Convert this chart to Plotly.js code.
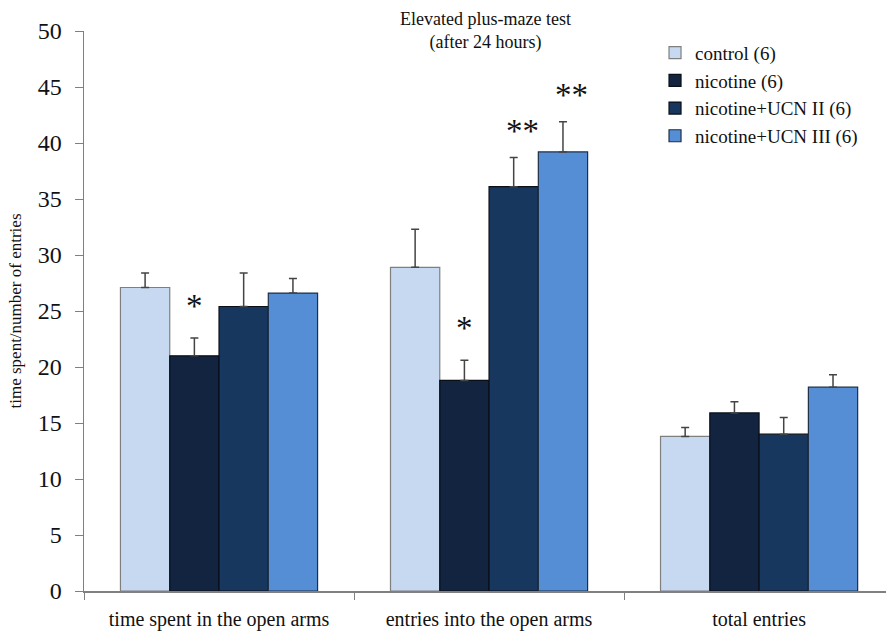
<!DOCTYPE html>
<html>
<head>
<meta charset="utf-8">
<script src="https://cdn.plot.ly/plotly-3.0.1.min.js"></script>
<style>html,body{margin:0;padding:0;background:#fff;}#chart{width:886px;height:632px;}</style>
</head>
<body>
<div id="chart"></div>
<script>
const categories = ["time spent in the open arms", "entries into the open arms", "total entries"];
const seriesNames = ["control (6)", "nicotine (6)", "nicotine+UCN II (6)", "nicotine+UCN III (6)"];
const controlVals = [27.1, 28.9, 13.8];
const nicotineVals = [21.0, 18.8, 15.9];
const ucn2Vals = [25.4, 36.1, 14.0];
const ucn3Vals = [26.6, 39.2, 18.2];
const controlErr = [1.3, 3.4, 0.8];
const nicotineErr = [1.6, 1.8, 1.0];
const ucn2Err = [3.0, 2.6, 1.5];
const ucn3Err = [1.3, 2.7, 1.1];
const yTicks = [0, 5, 10, 15, 20, 25, 30, 35, 40, 45, 50];
// significance marks: category index, series index, label
const sigCat = [0, 1, 1, 1];
const sigSeries = [1, 1, 2, 3];
const sigLabel = ["*", "*", "**", "**"];

const SERIF = "Liberation Serif, Times New Roman, serif";
const colors = ["#c6d9f1", "#12243f", "#17375e", "#558ed5"];
const lineColors = ["#7f7f7f", "#0a0f18", "#0a0f18", "#1f2f45"];
const vals = [controlVals, nicotineVals, ucn2Vals, ucn3Vals];
const errs = [controlErr, nicotineErr, ucn2Err, ucn3Err];
const bargap = 0.27;

const traces = vals.map((v, i) => ({
  type: "bar",
  name: seriesNames[i],
  legendgroup: "g" + i,
  x: categories,
  y: v,
  marker: {color: colors[i], line: {color: lineColors[i], width: 1.2}},
  error_y: {type: "data", array: errs[i], symmetric: false, arrayminus: v.map(() => 0),
            color: "#444", thickness: 1.5, width: 4}
}));

const bw = (1 - bargap) / 4;
const annotations = sigCat.map((c, k) => {
  const s = sigSeries[k];
  const xoff = -(1 - bargap) / 2 + (s + 0.5) * bw;
  const top = vals[s][c] + errs[s][c];
  const dbl = sigLabel[k].length > 1;
  return {
    x: c + xoff, y: top, xref: "x", yref: "y",
    text: sigLabel[k], showarrow: false, yanchor: "middle",
    yshift: dbl ? 27 : 32, xshift: dbl ? 9 : 0,
    font: {family: SERIF, size: 33, color: "#111"}
  };
});

const layout = {
  width: 886, height: 632,
  margin: {l: 84, r: 0, t: 31, b: 41, pad: 0},
  paper_bgcolor: "#fff", plot_bgcolor: "#fff",
  barmode: "group", bargap: bargap, bargroupgap: 0,
  font: {family: SERIF, color: "#111"},
  title: {text: "Elevated plus-maze test<br>(after 24 hours)", x: 0.548, xanchor: "center",
          y: 1 - 25 / 632, yanchor: "middle", yref: "container",
          font: {family: SERIF, size: 18, color: "#111"}},
  xaxis: {type: "category", range: [-0.5, 2.47], showline: true, linecolor: "#808080", linewidth: 1.5,
          ticks: "outside", tickson: "boundaries", ticklen: 7, tickcolor: "#808080",
          ticklabelstandoff: 9,
          showgrid: false, zeroline: false, tickfont: {family: SERIF, size: 20, color: "#111"}},
  yaxis: {range: [0, 50], tickvals: yTicks, showline: true, linecolor: "#808080", linewidth: 1.5,
          ticks: "outside", ticklen: 8, tickcolor: "#808080", showgrid: false, zeroline: false,
          ticklabelstandoff: 8,
          tickfont: {family: SERIF, size: 24, color: "#111"},
          title: {text: "time spent/number of entries", standoff: 12,
                  font: {family: SERIF, size: 17, color: "#111"}}},
  legend: {x: 0.712, y: 0.995, xanchor: "left", yanchor: "top", bgcolor: "rgba(0,0,0,0)",
           traceorder: "grouped", tracegroupgap: 0,
           font: {family: SERIF, size: 19, color: "#111"}, itemwidth: 30},
  showlegend: true,
  annotations: annotations
};

Plotly.newPlot("chart", traces, layout, {displayModeBar: false, staticPlot: true});
</script>
</body>
</html>
